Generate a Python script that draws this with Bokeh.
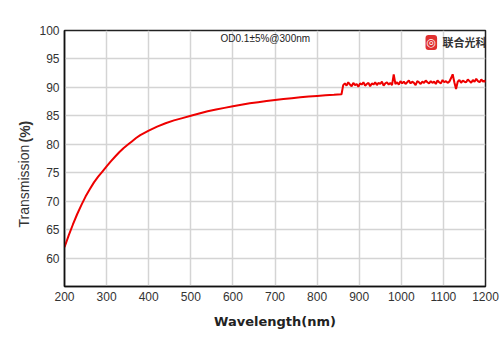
import math
from bokeh.plotting import figure
from bokeh.models import Label, FixedTicker, Range1d
from bokeh.embed import file_html
from bokeh.resources import INLINE

# smooth part of the curve (nm, %T)
wl_smooth = [200, 210, 220, 230, 240, 250, 260, 270, 280, 290, 300, 310, 320, 330, 340,
             350, 360, 370, 380, 390, 400, 420, 440, 460, 480, 500, 520, 540, 560, 580,
             600, 620, 640, 660, 680, 700, 720, 740, 760, 780, 800, 820, 840, 858]
t_smooth = [61.9, 64.0, 65.9, 67.7, 69.3, 70.8, 72.1, 73.3, 74.3, 75.2, 76.1, 77.0, 77.8, 78.6, 79.3,
            79.9, 80.5, 81.1, 81.6, 82.0, 82.4, 83.1, 83.7, 84.2, 84.6, 85.0, 85.4, 85.8, 86.1, 86.4,
            86.7, 86.95, 87.2, 87.4, 87.6, 87.8, 87.95, 88.1, 88.25, 88.4, 88.5, 88.6, 88.7, 88.8]

# noisy part after detector change (862..1198 step 4, then 1200)
wl_noisy = list(range(862, 1200, 4)) + [1200]
t_noisy = [90.4, 90.7, 90.3, 90.9, 90.5, 90.2, 90.8, 90.4, 90.6, 90.1,
           90.7, 90.5, 90.9, 90.3, 90.6, 90.8, 90.2, 90.7, 90.5, 90.9,
           90.4, 90.8, 90.6, 91.0, 90.3, 90.7, 90.9, 90.5, 90.8, 90.4,
           92.3, 90.6, 90.9, 90.5, 91.1, 90.7, 91.0, 90.6, 90.9, 91.2,
           90.7, 91.0, 90.8, 90.4, 91.1, 90.9, 90.6, 91.0, 90.8, 91.2,
           90.9, 90.7, 91.1, 90.8, 91.0, 90.6, 91.2, 90.9, 90.7, 91.3,
           90.9, 91.1, 90.8, 91.0, 91.6, 92.3, 90.9, 89.7, 91.0, 91.3,
           90.8, 91.2, 91.0, 90.9, 91.4, 91.1, 90.8, 91.3, 91.0, 91.5,
           91.1, 90.9, 91.4, 91.0, 91.2, 90.9]

x_ticks = [200, 300, 400, 500, 600, 700, 800, 900, 1000, 1100, 1200]
y_ticks = [60, 65, 70, 75, 80, 85, 90, 95, 100]

wl = wl_smooth + wl_noisy
tr = t_smooth + t_noisy

p = figure(width=500, height=353, output_backend="svg", toolbar_location=None,
           x_range=Range1d(200, 1200), y_range=Range1d(55, 100),
           min_border_left=64, min_border_right=15, min_border_top=30, min_border_bottom=67)
p.background_fill_color = "white"
p.border_fill_color = "white"
p.outline_line_color = "#222222"
p.outline_line_width = 1.5

p.line(wl, tr, line_color="#ee0000", line_width=2)

p.xaxis.ticker = FixedTicker(ticks=x_ticks)
p.yaxis.ticker = FixedTicker(ticks=y_ticks)
p.xgrid.grid_line_color = "#d4d4d4"
p.ygrid.grid_line_color = "#d4d4d4"
p.xgrid.grid_line_width = 1.5
p.ygrid.grid_line_width = 1.5

for ax in (p.xaxis, p.yaxis):
    ax.axis_line_color = "#111111"
    ax.axis_line_width = 1.5
    ax.major_tick_line_color = None
    ax.minor_tick_line_color = None
    ax.major_tick_out = 0
    ax.major_tick_in = 0
    ax.minor_tick_out = 0
    ax.major_label_text_font = "Liberation Sans"
    ax.major_label_text_font_size = "12px"
    ax.major_label_text_color = "#333333"
    ax.major_label_standoff = 5

p.xaxis.axis_label = "Wavelength(nm)"
p.xaxis.axis_label_text_font = "DejaVu Sans"
p.xaxis.axis_label_text_font_style = "bold"
p.xaxis.axis_label_text_font_size = "13px"
p.xaxis.axis_label_text_color = "#222222"
p.xaxis.axis_label_standoff = 10

p.yaxis.axis_label = None

# y-axis label: "Transmission" normal + "(%)" bold, placed in the left panel
p.add_layout(Label(x=3, y=59, x_units="screen", y_units="screen", text="Transmission",
                   angle=math.pi / 2, text_align="left", text_baseline="middle",
                   text_font="Liberation Sans", text_font_size="14px", text_color="#333333"), "left")
p.add_layout(Label(x=20, y=144, x_units="screen", y_units="screen", text="(%)",
                   angle=math.pi / 2, text_align="left", text_baseline="middle",
                   text_font="Liberation Sans", text_font_size="14px", text_font_style="bold",
                   text_color="#333333"), "left")

# annotation at top
p.add_layout(Label(x=677, y=98.6, text="OD0.1±5%@300nm", text_align="center",
                   text_baseline="middle", text_font="Liberation Sans",
                   text_font_size="10px", text_color="#222222"))

# logo
p.add_layout(Label(x=361, y=244, x_units="screen", y_units="screen", text="◎",
                   text_align="left", text_baseline="middle", text_font="DejaVu Sans",
                   text_font_size="11px", text_color="white",
                   background_fill_color="#e03030", border_radius=3, padding=1))
p.add_layout(Label(x=378, y=245, x_units="screen", y_units="screen", text="联合光科",
                   text_align="left", text_baseline="middle", text_font="Noto Sans CJK SC",
                   text_font_size="11px", text_font_style="bold", text_color="#333333"))

open("out.html", "w").write(file_html(p, INLINE))
